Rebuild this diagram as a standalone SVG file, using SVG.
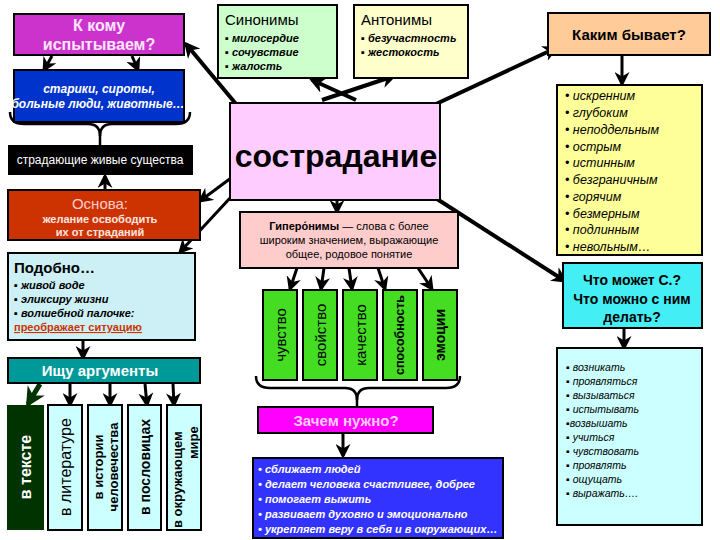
<svg xmlns="http://www.w3.org/2000/svg" width="720" height="540" viewBox="0 0 720 540">
<defs>
<marker id="ah" viewBox="0 0 10 10" refX="8" refY="5" markerWidth="4" markerHeight="4" orient="auto" markerUnits="strokeWidth">
<path d="M0,0 L10,5 L0,10 L3,5 Z" fill="#000"/>
</marker>
<marker id="ahs" viewBox="0 0 10 10" refX="8" refY="5" markerWidth="5" markerHeight="5" orient="auto" markerUnits="strokeWidth">
<path d="M0,0 L10,5 L0,10 L3,5 Z" fill="#000"/>
</marker>
<marker id="ahg" viewBox="0 0 10 10" refX="8" refY="5" markerWidth="4" markerHeight="4" orient="auto" markerUnits="strokeWidth">
<path d="M0,0 L10,5 L0,10 L3,5 Z" fill="#003300"/>
</marker>
</defs>
<style>
text{font-family:"Liberation Sans",Arial,sans-serif;}
.box{stroke:#000;stroke-width:2;}
.b{font-weight:bold;}
.i{font-style:italic;}
.c{text-anchor:middle;}
.w{fill:#fff;}
.lst{font-size:12.5px;font-style:italic;}
.blt{font-size:11px;font-style:italic;font-weight:bold;}
.thick{stroke:#000;stroke-width:4;fill:none;}
.thin{stroke:#000;stroke-width:3;fill:none;}
.brace{stroke:#000;stroke-width:2.5;fill:none;}
</style>
<rect width="720" height="540" fill="#fff"/>

<g id="connectors">
<line class="thick" x1="236" y1="104" x2="186" y2="44" marker-end="url(#ah)"/>
<line class="thick" x1="356" y1="100" x2="312" y2="80" marker-end="url(#ah)"/>
<line class="thick" x1="322" y1="100" x2="394" y2="76" marker-end="url(#ah)"/>
<line class="thick" x1="436" y1="104" x2="556" y2="48" marker-end="url(#ah)"/>
<line class="thin" x1="622" y1="56" x2="622" y2="84" marker-end="url(#ahs)"/>
<line class="thick" x1="437" y1="199" x2="565" y2="281" marker-end="url(#ah)"/>
<line class="thin" x1="624" y1="329" x2="624" y2="348" marker-end="url(#ahs)"/>
<line class="thin" x1="337" y1="190" x2="337" y2="212" marker-end="url(#ahs)"/>
<line class="thin" x1="297" y1="268" x2="290" y2="289" marker-end="url(#ahs)"/>
<line class="thin" x1="324" y1="268" x2="321" y2="289" marker-end="url(#ahs)"/>
<line class="thin" x1="349" y1="268" x2="352" y2="289" marker-end="url(#ahs)"/>
<line class="thin" x1="378" y1="268" x2="385" y2="289" marker-end="url(#ahs)"/>
<line class="thin" x1="418" y1="268" x2="432" y2="289" marker-end="url(#ahs)"/>
<line class="thin" x1="231" y1="178" x2="200" y2="201" marker-end="url(#ahs)"/>
<line class="thin" x1="231" y1="197" x2="180" y2="252" marker-end="url(#ahs)"/>
<line class="thin" x1="105" y1="190" x2="105" y2="176" marker-end="url(#ahs)"/>
<line class="thin" x1="52" y1="56" x2="44" y2="70" marker-end="url(#ahs)"/>
<line class="thin" x1="132" y1="56" x2="138" y2="70" marker-end="url(#ahs)"/>
<path class="brace" d="M10,112 Q10,124 24,124 L88,124 Q100,124 100,136 Q100,124 112,124 L176,124 Q190,124 190,112"/>
<line class="brace" x1="100" y1="132" x2="100" y2="145"/>
<line class="thin" x1="83" y1="341" x2="83" y2="358" marker-end="url(#ahs)"/>
<line stroke="#003300" stroke-width="5" x1="40" y1="384" x2="28" y2="404" marker-end="url(#ahg)"/>
<line class="thin" x1="70" y1="384" x2="70" y2="405" marker-end="url(#ahs)"/>
<line class="thin" x1="110" y1="384" x2="110" y2="405" marker-end="url(#ahs)"/>
<line class="thin" x1="145" y1="384" x2="147" y2="405" marker-end="url(#ahs)"/>
<line class="thin" x1="173" y1="384" x2="174" y2="405" marker-end="url(#ahs)"/>
<path class="brace" d="M256,376 Q256,388 270,388 L345,388 Q357,388 357,400 Q357,388 369,388 L446,388 Q460,388 460,376"/>
<line class="brace" x1="357" y1="396" x2="357" y2="407"/>
<line class="thin" x1="343" y1="434" x2="343" y2="456" marker-end="url(#ahs)"/>
</g>

<g id="n-kkomu">
<rect class="box" x="14" y="14" width="170" height="41" fill="#CC33CC"/>
<text class="c" x="99" y="31" font-size="16" fill="#FFE6FF" font-weight="600">К кому</text>
<text class="c" x="99" y="50" font-size="16" fill="#FFE6FF" font-weight="600">испытываем?</text>
</g>

<g id="n-stariki">
<rect class="box" x="14" y="70" width="170" height="52" fill="#0033CC"/>
<text class="c w i b" x="99" y="93" font-size="12">старики, сироты,</text>
<text class="c w i b" x="98" y="108" font-size="12">больные люди, животные…</text>
</g>

<g id="n-stradayushchie">
<rect x="8" y="145" width="185" height="30" fill="#000"/>
<text class="c w" x="100" y="164" font-size="12">страдающие живые существа</text>
</g>

<g id="n-osnova">
<rect class="box" x="8" y="190" width="192" height="50" fill="#CC3300"/>
<text class="c" x="100" y="209" font-size="15" fill="#FFCCCC">Основа:</text>
<text class="c b" x="100" y="223" font-size="11" fill="#FFE6E0">желание освободить</text>
<text class="c b" x="100" y="236" font-size="11" fill="#FFE6E0">их от страданий</text>
</g>

<g id="n-podobno">
<rect class="box" x="8" y="253" width="187" height="87" fill="#CCF0F5"/>
<text class="b" x="14" y="273" font-size="15">Подобно…</text>
<text class="blt" x="14" y="289">▪ живой воде</text>
<text class="blt" x="14" y="303">▪ эликсиру жизни</text>
<text class="blt" x="14" y="317">▪ волшебной палочке:</text>
<text class="b" x="14" y="331" font-size="11" fill="#CC3300" text-decoration="underline">преображает ситуацию</text>
</g>

<g id="n-argumenty">
<rect class="box" x="8" y="358" width="192" height="25" fill="#009999"/>
<text class="c w b" x="100" y="376" font-size="15">Ищу аргументы</text>
</g>

<g id="n-vtekste">
<rect x="7" y="405" width="37" height="125" fill="#003300"/>
<text class="c w b" transform="translate(31,467) rotate(-90)" font-size="16">в тексте</text>
</g>
<g id="n-vliterature">
<rect class="box" x="48" y="405" width="34" height="125" fill="#CCFFFF" stroke-width="1.5"/>
<text class="c" transform="translate(71,467) rotate(-90)" font-size="16">в литературе</text>
</g>
<g id="n-vistorii">
<rect class="box" x="88" y="405" width="34" height="125" fill="#CCFFFF" stroke-width="1.5"/>
<text class="c b" transform="translate(103,467) rotate(-90)" font-size="13">в истории</text>
<text class="c b" transform="translate(118,467) rotate(-90)" font-size="13">человечества</text>
</g>
<g id="n-vposlovitsah">
<rect class="box" x="128" y="405" width="33" height="125" fill="#CCFFFF" stroke-width="1.5"/>
<text class="c b" transform="translate(150,467) rotate(-90)" font-size="14">в пословицах</text>
</g>
<g id="n-vokruzh">
<rect class="box" x="167" y="405" width="34" height="125" fill="#CCFFFF" stroke-width="1.5"/>
<text class="b" transform="translate(182,528) rotate(-90)" font-size="13">в окружающем</text>
<text class="b" transform="translate(198,459) rotate(-90)" font-size="13">мире</text>
</g>

<g id="n-sinonimy">
<rect class="box" x="218" y="5" width="119" height="73" fill="#CCFFCC"/>
<text x="225" y="25" font-size="15">Синонимы</text>
<text class="blt" x="225" y="42" font-size="10.5">▪ милосердие</text>
<text class="blt" x="225" y="56" font-size="10.5">▪ сочувствие</text>
<text class="blt" x="225" y="70" font-size="10.5">▪ жалость</text>
</g>

<g id="n-antonimy">
<rect class="box" x="354" y="5" width="114" height="73" fill="#FFFFCC"/>
<text x="361" y="25" font-size="15">Антонимы</text>
<text class="blt" x="361" y="42" font-size="10.5">▪ безучастность</text>
<text class="blt" x="361" y="56" font-size="10.5">▪ жестокость</text>
</g>

<g id="n-kakim">
<rect class="box" x="548" y="13" width="162" height="42" fill="#FFCC99"/>
<text class="c b" x="629" y="40" font-size="15">Каким бывает?</text>
</g>

<g id="n-kakim-list">
<rect class="box" x="557" y="85" width="145" height="170" fill="#FFFF99" stroke-width="1.5"/>
<text class="lst" x="565" y="100">• искренним</text>
<text class="lst" x="565" y="117">• глубоким</text>
<text class="lst" x="565" y="134">• неподдельным</text>
<text class="lst" x="565" y="151">• острым</text>
<text class="lst" x="565" y="167">• истинным</text>
<text class="lst" x="565" y="184">• безграничным</text>
<text class="lst" x="565" y="201">• горячим</text>
<text class="lst" x="565" y="218">• безмерным</text>
<text class="lst" x="565" y="234">• подлинным</text>
<text class="lst" x="565" y="251">• невольным…</text>
</g>

<g id="n-sostradanie">
<rect class="box" x="230" y="103" width="210" height="97" fill="#FFCCFF" stroke-width="2.5"/>
<text class="c b" x="336" y="167" font-size="32">сострадание</text>
</g>

<g id="n-giperonimy">
<rect class="box" x="240" y="212" width="218" height="56" fill="#FFCCCC" stroke-width="1.5"/>
<text class="c" x="349" y="230" font-size="11"><tspan font-weight="bold">Гипеpо́нимы</tspan> — слова с более</text>
<text class="c" x="349" y="244" font-size="11">широким значением, выражающие</text>
<text class="c" x="349" y="258" font-size="11">общее, родовое понятие</text>
</g>

<g id="n-chuvstvo">
<rect class="box" x="263" y="290" width="34" height="90" fill="#44DD22" stroke-width="1.5"/>
<text class="c" transform="translate(286,335) rotate(-90)" font-size="15">чувство</text>
</g>
<g id="n-svoystvo">
<rect class="box" x="303" y="290" width="34" height="90" fill="#44DD22" stroke-width="1.5"/>
<text class="c" transform="translate(326,335) rotate(-90)" font-size="15">свойство</text>
</g>
<g id="n-kachestvo">
<rect class="box" x="343" y="290" width="34" height="90" fill="#44DD22" stroke-width="1.5"/>
<text class="c" transform="translate(366,335) rotate(-90)" font-size="15">качество</text>
</g>
<g id="n-sposobnost">
<rect class="box" x="383" y="290" width="34" height="90" fill="#44DD22" stroke-width="1.5"/>
<text class="c b" transform="translate(404,335) rotate(-90)" font-size="12.5">способность</text>
</g>
<g id="n-emotsii">
<rect class="box" x="423" y="290" width="34" height="90" fill="#44DD22" stroke-width="1.5"/>
<text class="c b" transform="translate(445,335) rotate(-90)" font-size="14">эмоции</text>
</g>

<g id="n-zachem">
<rect class="box" x="258" y="407" width="175" height="26" fill="#FF00FF" stroke-width="1.5"/>
<text class="c b" x="346" y="426" font-size="15" fill="#FFCCFF">Зачем нужно?</text>
</g>

<g id="n-zachem-list">
<rect class="box" x="253" y="458" width="250" height="80" fill="#3333FF"/>
<text class="w blt" x="258" y="473">• сближает людей</text>
<text class="w blt" x="258" y="488">• делает человека счастливее, добрее</text>
<text class="w blt" x="258" y="503">• помогает выжить</text>
<text class="w blt" x="258" y="518">• развивает духовно и эмоционально</text>
<text class="w blt" x="258" y="533">•  укрепляет веру в себя и в окружающих…</text>
</g>

<g id="n-chto">
<rect class="box" x="563" y="263" width="139" height="65" fill="#44EEF5" stroke-width="2.5"/>
<text class="c b" x="632" y="285" font-size="14">Что может С.?</text>
<text class="c b" x="632" y="304" font-size="14">Что можно с ним</text>
<text class="c b" x="632" y="322" font-size="14">делать?</text>
</g>

<g id="n-chto-list">
<rect class="box" x="557" y="348" width="145" height="177" fill="#CCFFFF" stroke-width="1.5"/>
<text class="i" x="566" y="371" font-size="10.5">▪ возникать</text>
<text class="i" x="566" y="385" font-size="10.5">▪ проявляться</text>
<text class="i" x="566" y="399" font-size="10.5">▪ вызываться</text>
<text class="i" x="566" y="413" font-size="10.5">▪ испытывать</text>
<text class="i" x="566" y="427" font-size="10.5">▪возвышать</text>
<text class="i" x="566" y="441" font-size="10.5">▪ учиться</text>
<text class="i" x="566" y="455" font-size="10.5">▪ чувствовать</text>
<text class="i" x="566" y="469" font-size="10.5">▪ проявлять</text>
<text class="i" x="566" y="483" font-size="10.5">▪ ощущать</text>
<text class="i" x="566" y="497" font-size="10.5">▪ выражать….</text>
</g>
</svg>
